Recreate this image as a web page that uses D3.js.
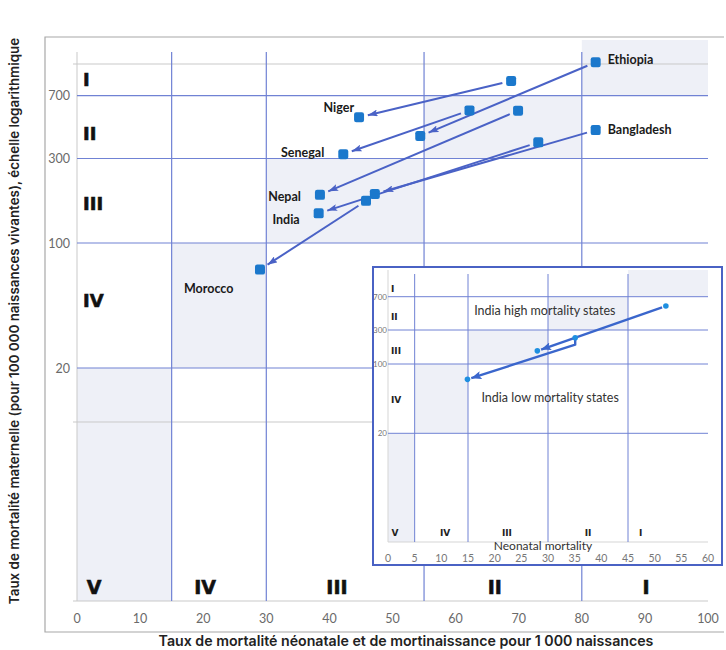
<!DOCTYPE html>
<html><head><meta charset="utf-8">
<script src="https://cdn.jsdelivr.net/npm/d3@7"></script>
<style>body{margin:0;background:#fff}</style>
</head><body><svg id="c" width="726" height="650"></svg>
<script>
// ---------------- DATA ----------------
const countries   = ["Ethiopia", "Bangladesh", "Niger", "Senegal", "Nepal", "India", "Morocco"];
const startNeo    = [82.2, 82.2, 68.8, 62.2, 69.9, 73.1, 45.8];
const startMat    = [1020, 440, 826, 574, 572, 373, 173];
const endNeo      = [54.4, 47.2, 44.7, 42.2, 38.5, 38.3, 29.0];
const endMat      = [406, 189, 523, 318, 187, 147, 71];
const labelOnPoint = ["start", "start", "end", "end", "end", "end", "end"];

const xTicks = [0, 10, 20, 30, 40, 50, 60, 70, 80, 90, 100];
const yTickLabels = [700, 300, 100, 20];
const yGray = [1000, 10];
const neoBounds = [15, 30, 55, 80];
const stages = ["I", "II", "III", "IV", "V"];
// stage boxes: [x0,x1] neonatal, [y0,y1] maternal
const stageNeo = [[80, 100], [55, 80], [30, 55], [15, 30], [0, 15]];
const stageMat = [[700, 1000], [300, 700], [100, 300], [20, 100], [1, 20]];
const stageLeftMat = [836, 423, 168, 48];
const stageBottomNeo = [90.2, 66.2, 41.2, 20.3, 2.7];
const stageBottomMat = 1.2;

// inset (India states)
const insetNames = ["India high mortality states", "India low mortality states"];
const insetStartNeo = [52.1, 35.1];
const insetStartMat = [552, 234];
const insetEndNeo = [28.0, 14.9];
const insetEndMat = [153, 70];
const insetLabelNeo = [29.4, 30.4];
const insetLabelMat = [499, 46];
const insetXTicks = [0, 5, 10, 15, 20, 25, 30, 35, 40, 45, 50, 55, 60];
const insetYTickLabels = [700, 300, 100, 20];
const insetBounds = [5, 15, 30, 45];
const insetStageNeo = [[45, 60], [30, 45], [15, 30], [5, 15], [0, 5]];
const insetStageMat = [[700, 1000], [300, 700], [100, 300], [20, 100], [1, 20]];
const insetStageLeftMat = [776, 418, 152, 43];
const insetStageBottomNeo = [47.4, 37.5, 22.3, 10.7, 1.3];
const insetStageBottomMat = 1.28;

// ---------------- STYLE ----------------
const BLUE = "#7082d4", GRAY = "#c9c9c9", SHADE = "#eef0f7", PT = "#1b78cc", ARROW = "#4a62c6";
const svg = d3.select("#c");

const x = d3.scaleLinear().domain([0, 100]).range([77, 708]);
const y = d3.scaleLog().domain([1, 10, 20, 100, 300, 700, 1000]).range([601, 422, 368, 243, 158.5, 95.7, 64]);

const defs = svg.append("defs");
function marker(id, color, w, h) {
  defs.append("marker").attr("id", id).attr("markerUnits", "userSpaceOnUse")
    .attr("viewBox", `0 0 ${w} ${h}`).attr("markerWidth", w).attr("markerHeight", h)
    .attr("refX", w).attr("refY", h / 2).attr("orient", "auto")
    .append("path").attr("d", `M0,0 L${w},${h / 2} L0,${h} L${w * 0.2},${h / 2} Z`).attr("fill", color);
}
marker("ah", ARROW, 10, 7);
marker("ah2", "#3a66cc", 10, 8);

// outer frame
svg.append("path").attr("d", "M724,37 L45,37 L45,632 L724,632").attr("fill", "none").attr("stroke", "#a8a8a8").attr("stroke-width", 1.2);

// shaded stage boxes
stageNeo.forEach((n, i) => {
  const m = stageMat[i];
  const top = i === 0 ? 40 : y(m[1]);
  svg.append("rect").attr("x", x(n[0])).attr("y", top).attr("width", x(n[1]) - x(n[0]))
    .attr("height", y(m[0]) - top).attr("fill", SHADE);
});

// gray lines
yGray.forEach(v => svg.append("line").attr("x1", 73).attr("x2", x(100)).attr("y1", y(v)).attr("y2", y(v)).attr("stroke", GRAY).attr("stroke-width", 1));
svg.append("line").attr("x1", 73).attr("x2", x(100)).attr("y1", y(1)).attr("y2", y(1)).attr("stroke", GRAY);
svg.append("line").attr("x1", x(0)).attr("x2", x(0)).attr("y1", 52).attr("y2", y(1)).attr("stroke", GRAY);

// blue grid
yTickLabels.forEach(v => svg.append("line").attr("x1", x(0)).attr("x2", x(100)).attr("y1", y(v)).attr("y2", y(v)).attr("stroke", BLUE).attr("stroke-width", 1.2));
neoBounds.forEach(v => svg.append("line").attr("x1", x(v)).attr("x2", x(v)).attr("y1", 52).attr("y2", y(1)).attr("stroke", BLUE).attr("stroke-width", 1.2));

// tick labels
const tickFont = "Lato, 'Liberation Sans', sans-serif";
svg.append("g").selectAll("text").data(xTicks).join("text")
  .attr("x", d => x(d)).attr("y", 618).attr("text-anchor", "middle").attr("dominant-baseline", "central")
  .attr("font-family", tickFont).attr("font-size", 12.5).attr("fill", "#6a6a6a").text(d => d);
svg.append("g").selectAll("text").data(yTickLabels).join("text")
  .attr("x", 70).attr("y", d => y(d)).attr("text-anchor", "end").attr("dominant-baseline", "central")
  .attr("font-family", tickFont).attr("font-size", 12.5).attr("fill", "#6a6a6a").text(d => d);

// stage numerals
const romanFont = "'DejaVu Sans', sans-serif";
stageLeftMat.forEach((m, i) => svg.append("text").attr("x", 83).attr("y", y(m)).attr("dominant-baseline", "central")
  .attr("font-family", romanFont).attr("font-weight", 900).attr("font-size", 18).attr("fill", "#111")
  .attr("stroke", "#111").attr("stroke-width", 0.6).text(stages[i]));
stageBottomNeo.forEach((n, i) => svg.append("text").attr("x", x(n)).attr("y", y(stageBottomMat)).attr("text-anchor", "middle").attr("dominant-baseline", "central")
  .attr("font-family", romanFont).attr("font-weight", 900).attr("font-size", 19).attr("fill", "#111")
  .attr("stroke", "#111").attr("stroke-width", 0.6).text(stages[i]));

// arrows
function shorten(x1, y1, x2, y2, a, b) {
  const dx = x2 - x1, dy = y2 - y1, L = Math.hypot(dx, dy);
  return [x1 + dx * a / L, y1 + dy * a / L, x2 - dx * b / L, y2 - dy * b / L];
}
countries.forEach((c, i) => {
  const s = shorten(x(startNeo[i]), y(startMat[i]), x(endNeo[i]), y(endMat[i]), 9, 9);
  svg.append("line").attr("x1", s[0]).attr("y1", s[1]).attr("x2", s[2]).attr("y2", s[3])
    .attr("stroke", ARROW).attr("stroke-width", 2).attr("marker-end", "url(#ah)");
});
// points
const pts = [];
countries.forEach((c, i) => { pts.push([startNeo[i], startMat[i]]); pts.push([endNeo[i], endMat[i]]); });
svg.append("g").selectAll("rect").data(pts).join("rect")
  .attr("x", d => x(d[0]) - 5).attr("y", d => y(d[1]) - 5).attr("width", 10).attr("height", 10).attr("rx", 2.2)
  .attr("fill", PT);

// country labels
const labelOffsets = {
  Ethiopia: [12, -3, "start"], Bangladesh: [12, -1, "start"], Niger: [-5, -10, "end"],
  Senegal: [-19, -2, "end"], Nepal: [-19, 2, "end"], India: [-19, 6, "end"], Morocco: [-76, 19, "start"]
};
countries.forEach((c, i) => {
  const onStart = labelOnPoint[i] === "start";
  const px = x(onStart ? startNeo[i] : endNeo[i]), py = y(onStart ? startMat[i] : endMat[i]);
  const o = labelOffsets[c];
  svg.append("text").attr("x", px + o[0]).attr("y", py + o[1]).attr("text-anchor", o[2]).attr("dominant-baseline", "central")
    .attr("font-family", "Lato, sans-serif").attr("font-weight", 700).attr("font-size", 12.5).attr("fill", "#1a1a1a").text(c);
});

// axis titles
const titleFont = "Inter, 'Open Sans', sans-serif";
svg.append("text").attr("x", 406).attr("y", 640.5).attr("text-anchor", "middle").attr("dominant-baseline", "central")
  .attr("font-family", titleFont).attr("font-weight", 600).attr("font-size", 14.2).attr("fill", "#222")
  .text("Taux de mortalité néonatale et de mortinaissance pour 1 000 naissances");
svg.append("text").attr("transform", "translate(14,321) rotate(-90)").attr("text-anchor", "middle").attr("dominant-baseline", "central")
  .attr("font-family", titleFont).attr("font-weight", 600).attr("font-size", 13.4).attr("fill", "#222")
  .text("Taux de mortalité maternelle (pour 100 000 naissances vivantes), échelle logarithmique");

// ---------------- INSET ----------------
const ix = d3.scaleLinear().domain([0, 60]).range([388, 708]);
const iy = d3.scaleLog().domain([1, 20, 100, 300, 700, 1000]).range([542, 433.3, 364, 330, 296.7, 270]);
const inset = svg.append("g");
inset.append("rect").attr("x", 373).attr("y", 267).attr("width", 349).attr("height", 298).attr("fill", "#fff");
insetStageNeo.forEach((n, i) => {
  const m = insetStageMat[i];
  inset.append("rect").attr("x", ix(n[0])).attr("y", iy(m[1])).attr("width", ix(n[1]) - ix(n[0]))
    .attr("height", iy(m[0]) - iy(m[1])).attr("fill", SHADE);
});
inset.append("line").attr("x1", ix(0)).attr("x2", ix(0)).attr("y1", iy(1000)).attr("y2", iy(1)).attr("stroke", "#d5d5d5");
inset.append("line").attr("x1", ix(0)).attr("x2", ix(60)).attr("y1", iy(1)).attr("y2", iy(1)).attr("stroke", "#d5d5d5");
insetYTickLabels.forEach(v => inset.append("line").attr("x1", ix(0)).attr("x2", ix(60)).attr("y1", iy(v)).attr("y2", iy(v)).attr("stroke", BLUE).attr("stroke-width", 1));
insetBounds.forEach(v => inset.append("line").attr("x1", ix(v)).attr("x2", ix(v)).attr("y1", iy(1000) + 4).attr("y2", iy(1)).attr("stroke", BLUE).attr("stroke-width", 1));
inset.append("g").selectAll("text").data(insetXTicks).join("text")
  .attr("x", d => ix(d)).attr("y", 558).attr("text-anchor", "middle").attr("dominant-baseline", "central")
  .attr("font-family", tickFont).attr("font-size", 10.5).attr("fill", "#777").text(d => d);
inset.append("g").selectAll("text").data(insetYTickLabels).join("text")
  .attr("x", 387).attr("y", d => iy(d)).attr("text-anchor", "end").attr("dominant-baseline", "central")
  .attr("font-family", tickFont).attr("font-size", 8).attr("fill", "#777").text(d => d);
insetStageLeftMat.forEach((m, i) => inset.append("text").attr("x", 391).attr("y", iy(m)).attr("dominant-baseline", "central")
  .attr("font-family", romanFont).attr("font-weight", 900).attr("font-size", 9).attr("fill", "#222").text(stages[i]));
insetStageBottomNeo.forEach((n, i) => inset.append("text").attr("x", ix(n)).attr("y", iy(insetStageBottomMat)).attr("text-anchor", "middle").attr("dominant-baseline", "central")
  .attr("font-family", romanFont).attr("font-weight", 900).attr("font-size", 9).attr("fill", "#222").text(stages[i]));
inset.append("text").attr("x", 543).attr("y", 545.5).attr("text-anchor", "middle").attr("dominant-baseline", "central")
  .attr("font-family", tickFont).attr("font-size", 12).attr("fill", "#333").text("Neonatal mortality");
insetNames.forEach((nm, i) => {
  const sx = ix(insetStartNeo[i]), sy = iy(insetStartMat[i]);
  const ex = ix(insetEndNeo[i]), ey = iy(insetEndMat[i]);
  let pathPts;
  if (i === 0) {
    const s = shorten(sx, sy, ex, ey, 4, 4);
    pathPts = [[s[0], s[1]], [s[2], s[3]]];
  } else {
    const bx = sx, by = sy + 7;
    const s = shorten(bx, by, ex, ey, 0, 4);
    pathPts = [[sx, sy], [bx, by], [s[2], s[3]]];
  }
  inset.append("path").attr("d", d3.line()(pathPts)).attr("fill", "none")
    .attr("stroke", "#3a66cc").attr("stroke-width", 2.4).attr("stroke-linejoin", "round").attr("marker-end", "url(#ah2)");
  inset.append("text").attr("x", ix(insetLabelNeo[i])).attr("y", iy(insetLabelMat[i])).attr("text-anchor", "middle").attr("dominant-baseline", "central")
    .attr("font-family", tickFont).attr("font-size", 12.5).attr("fill", "#333").text(nm);
});
const ipts = [];
insetNames.forEach((nm, i) => { ipts.push([insetStartNeo[i], insetStartMat[i]]); ipts.push([insetEndNeo[i], insetEndMat[i]]); });
inset.append("g").selectAll("circle").data(ipts).join("circle")
  .attr("cx", d => ix(d[0])).attr("cy", d => iy(d[1])).attr("r", 2.8).attr("fill", "#1e8fe0");
inset.append("rect").attr("x", 373).attr("y", 267).attr("width", 349).attr("height", 298)
  .attr("fill", "none").attr("stroke", "#4a62c4").attr("stroke-width", 2);
</script></body></html>
